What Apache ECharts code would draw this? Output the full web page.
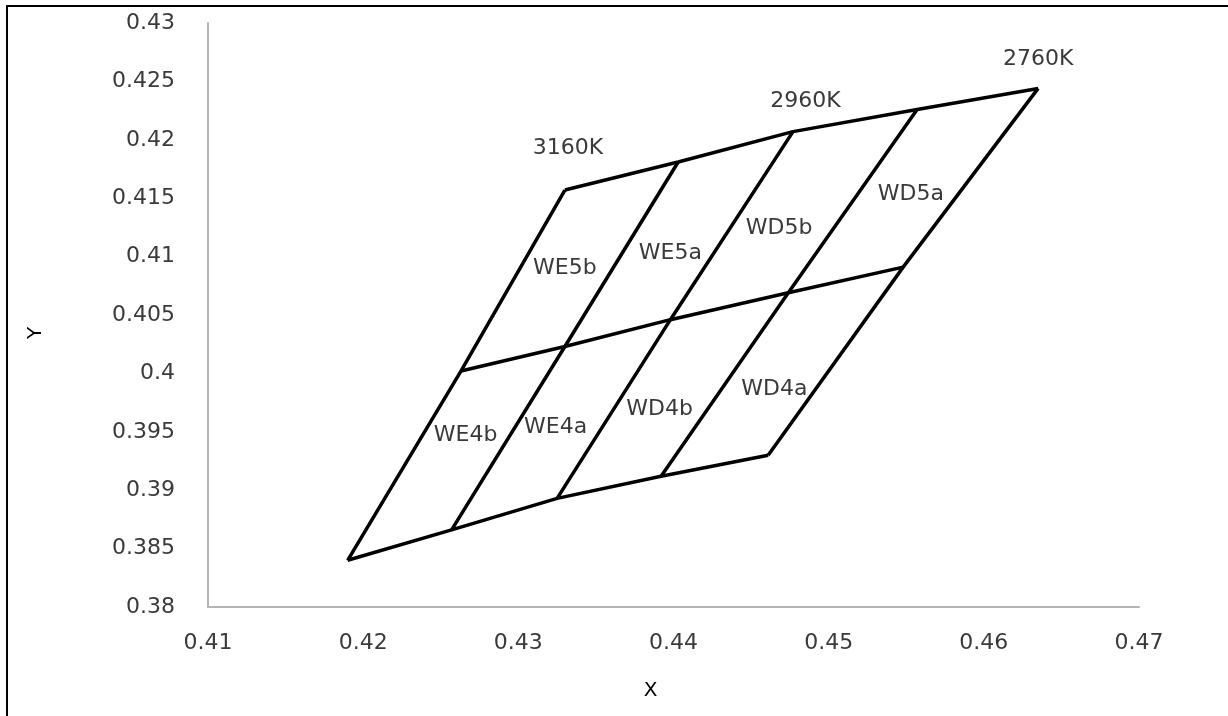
<!DOCTYPE html>
<html>
<head>
<meta charset="utf-8">
<script src="https://cdn.jsdelivr.net/npm/echarts@6/dist/echarts.min.js"></script>
<style>
  html, body { margin: 0; padding: 0; overflow: hidden; background: #fff; }
  #frame { position: absolute; left: 6px; top: 5px; width: 1400px; height: 900px; border: 2px solid #000; }
  #chart { position: absolute; left: 0; top: 0; width: 1228px; height: 716px; }
</style>
</head>
<body>
<div id="frame"></div>
<div id="chart"></div>
<script>
// vertices of the quadrangle grid, left to right, [x, y]
const rowBottom = [[0.4190, 0.3840], [0.4257, 0.3866], [0.4325, 0.3893], [0.4392, 0.3912], [0.4461, 0.3930]]
const rowMiddle = [[0.4263, 0.4002], [0.4330, 0.4023], [0.4398, 0.4046], [0.4474, 0.4069], [0.4548, 0.4091]]
const rowTop = [[0.4330, 0.4157], [0.4403, 0.4181], [0.4477, 0.4207], [0.4557, 0.4226], [0.4635, 0.4244]]

// text placed inside the chart
const labelNames = ['3160K', '2960K', '2760K', 'WE5b', 'WE5a', 'WD5b', 'WD5a', 'WE4b', 'WE4a', 'WD4b', 'WD4a']
const labelX = [0.4332, 0.4485, 0.4635, 0.4330, 0.4398, 0.4468, 0.4553, 0.4266, 0.4324, 0.4391, 0.4465]
const labelY = [0.4193, 0.4233, 0.4269, 0.4090, 0.4103, 0.4124, 0.4153, 0.3947, 0.3954, 0.3969, 0.3986]

const xTicks = {min: 0.41, max: 0.47, interval: 0.01}
const yTicks = {min: 0.38, max: 0.43, interval: 0.005}

const font = 'DejaVu Sans'
const textColor = '#3a3a3a'
const fontSize = 22

const lines = [rowBottom, rowMiddle, rowTop]
for (let i = 0; i < rowBottom.length; i++) {
  lines.push([rowBottom[i], rowMiddle[i], rowTop[i]])
}

const series = lines.map(pts => ({
  type: 'line',
  data: pts,
  symbol: 'none',
  silent: true,
  lineStyle: {color: '#000', width: 3.5},
}))

series.push({
  type: 'scatter',
  symbolSize: 0,
  silent: true,
  itemStyle: {opacity: 1},
  data: labelNames.map((n, i) => ({name: n, value: [labelX[i], labelY[i]]})),
  label: {
    show: true,
    position: 'inside',
    formatter: p => p.name,
    fontFamily: font,
    fontSize: fontSize,
    color: textColor,
  },
})

const chart = echarts.init(document.getElementById('chart'))
chart.setOption({
  animation: false,
  grid: {left: 208, right: 89, top: 23, bottom: 109, outerBoundsMode: 'none'},
  xAxis: {
    type: 'value',
    min: xTicks.min,
    max: xTicks.max,
    interval: xTicks.interval,
    name: 'X',
    nameLocation: 'middle',
    nameGap: 74,
    nameTextStyle: {fontFamily: font, fontSize: 20, color: '#000', padding: [0, 46, 0, 0]},
    axisLine: {lineStyle: {color: '#b4b4b4', width: 2}},
    axisTick: {show: false},
    splitLine: {show: false},
    axisLabel: {fontFamily: font, fontSize: fontSize, color: textColor, margin: 25},
  },
  yAxis: {
    type: 'value',
    min: yTicks.min,
    max: yTicks.max,
    interval: yTicks.interval,
    name: 'Y',
    nameLocation: 'middle',
    nameRotate: 90,
    nameGap: 162,
    nameTextStyle: {fontFamily: font, fontSize: 20, color: '#000', padding: [0, 36, 0, 0]},
    axisLine: {show: true, lineStyle: {color: '#b4b4b4', width: 2}},
    axisTick: {show: false},
    splitLine: {show: false},
    axisLabel: {fontFamily: font, fontSize: fontSize, color: textColor, margin: 33},
  },
  series: series,
})
</script>
</body>
</html>
